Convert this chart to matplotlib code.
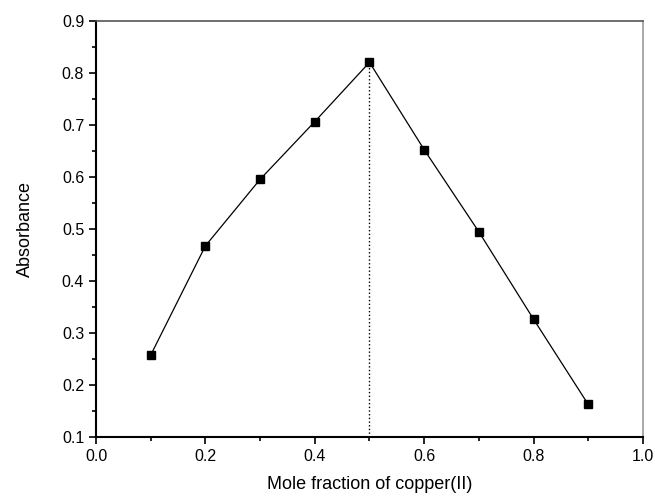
import matplotlib
matplotlib.use('Agg')
import matplotlib.pyplot as plt
from matplotlib.ticker import MultipleLocator

plt.rcParams['font.family'] = ['Liberation Sans', 'DejaVu Sans']

# mole fraction vs absorbance (Job plot)
mole_frac = [0.1, 0.2, 0.3, 0.4, 0.5, 0.6, 0.7, 0.8, 0.9]
absorb = [0.257, 0.467, 0.595, 0.706, 0.820, 0.652, 0.494, 0.326, 0.162]
x_max = 0.5
y_max = 0.820

fig = plt.figure(figsize=(6.55, 4.97), dpi=100)
ax = fig.add_axes([0.1466, 0.1213, 0.835, 0.837])

ax.plot(mole_frac, absorb, color='black', linewidth=0.9, marker='s',
        markersize=6, markerfacecolor='black', markeredgecolor='black')
ax.plot([x_max, x_max], [0.1, y_max], color='black', linestyle=':', linewidth=1.0)

ax.set_xlim(0.0, 1.0)
ax.set_ylim(0.1, 0.9)
ax.xaxis.set_major_locator(MultipleLocator(0.2))
ax.xaxis.set_minor_locator(MultipleLocator(0.1))
ax.yaxis.set_major_locator(MultipleLocator(0.1))
ax.yaxis.set_minor_locator(MultipleLocator(0.05))
ax.tick_params(which='both', direction='out', width=1.2, labelsize=11.5)
ax.tick_params(which='major', length=5)
ax.tick_params(which='minor', length=3)

ax.spines['left'].set_linewidth(1.5)
ax.spines['bottom'].set_linewidth(1.5)
ax.spines['top'].set_color('#555555')
ax.spines['top'].set_linewidth(1.2)
ax.spines['right'].set_color('#999999')
ax.spines['right'].set_linewidth(1.2)

ax.set_xlabel('Mole fraction of copper(II)', fontsize=13, labelpad=9)
ax.set_ylabel('Absorbance', fontsize=13, labelpad=20)

fig.savefig('out.png', dpi=100)
